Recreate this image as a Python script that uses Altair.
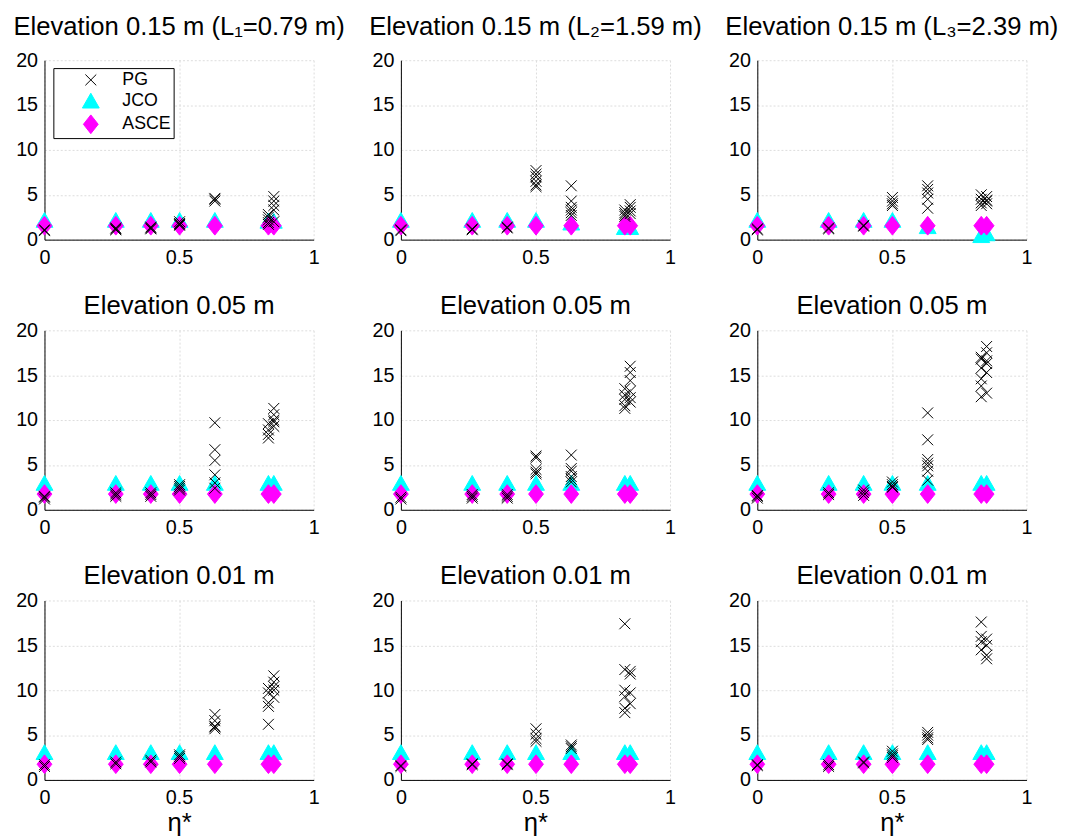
import altair as alt
import pandas as pd

# x positions of the measurement groups (eta*)
ETA = [0.0, 0.265, 0.395, 0.502, 0.633, 0.832, 0.852]
SERIES = ["PG", "JCO", "ASCE"]
COLORS = ["black", "#00FFFF", "#FF00FF"]

TITLES = [
    "Elevation 0.15 m (L\u2081=0.79 m)",
    "Elevation 0.15 m (L\u2082=1.59 m)",
    "Elevation 0.15 m (L\u2083=2.39 m)",
    "Elevation 0.05 m", "Elevation 0.05 m", "Elevation 0.05 m",
    "Elevation 0.01 m", "Elevation 0.01 m", "Elevation 0.01 m",
]

# JCO values per eta position
JCO_R1C1 = [2.2, 2.2, 2.2, 2.2, 2.2, 2.1, 2.1]
JCO_R1C2 = [2.2, 2.2, 2.2, 2.2, 1.9, 1.4, 1.4]
JCO_R1C3 = [2.2, 2.2, 2.2, 2.2, 1.5, 0.5, 0.7]
JCO_R2 = [3.0, 3.0, 3.0, 3.0, 3.0, 3.0, 3.0]
JCO_R3 = [3.1, 3.1, 3.1, 3.1, 3.1, 3.1, 3.1]

# ASCE values per eta position
ASCE_R1 = [1.55, 1.55, 1.55, 1.55, 1.55, 1.55, 1.55]
ASCE_R2 = [1.75, 1.75, 1.75, 1.75, 1.75, 1.75, 1.75]
ASCE_R3 = [1.75, 1.75, 1.75, 1.75, 1.75, 1.75, 1.75]

# PG values per eta position (several runs each)
PG_R1C1 = [[1.0, 1.1], [1.1, 1.2, 1.3], [1.2, 1.3, 1.4], [1.6, 1.8, 2.0, 1.7],
           [4.3, 4.5, 4.6], [2.8, 2.5, 2.2, 1.9, 1.7], [4.8, 4.3, 3.8, 3.3, 2.0]]
PG_R1C2 = [[1.0, 1.1], [1.1, 1.2], [1.3, 1.4], [7.7, 7.3, 7.0, 6.5, 6.1, 5.9],
           [6.0, 4.3, 3.6, 3.3, 3.0, 2.7], [3.3, 3.0, 2.8, 2.6], [3.9, 3.6, 3.2, 2.9]]
PG_R1C3 = [[1.1, 1.2], [1.2, 1.3], [1.5, 1.6], [4.7, 4.3, 4.0, 3.8],
           [6.0, 5.6, 5.2, 4.5, 3.5], [5.0, 4.5, 4.1, 3.8], [4.8, 4.4, 4.3, 4.0]]
PG_R2C1 = [[1.2, 1.4, 1.5], [1.5, 1.7, 1.9], [1.5, 1.7, 1.9], [2.2, 2.4, 2.6, 2.8],
           [9.7, 6.7, 5.5, 3.9, 3.0, 2.4], [9.6, 8.9, 8.4, 8.0], [11.3, 10.6, 10.0, 9.8, 9.3]]
PG_R2C2 = [[1.2, 1.4], [1.3, 1.5, 1.7], [1.3, 1.5, 1.7], [6.0, 5.8, 4.5, 4.2, 4.0],
           [6.1, 4.6, 4.3, 3.7, 3.4, 3.1], [13.5, 12.8, 12.3, 11.6, 11.3],
           [16.0, 15.3, 14.4, 13.2, 12.5, 12.0]]
PG_R2C3 = [[1.3, 1.5, 1.6], [1.7, 1.9], [1.6, 1.9, 2.2], [3.1, 2.8, 2.6, 2.5],
           [10.8, 7.8, 5.6, 5.2, 4.9, 4.3, 3.3], [17.0, 16.8, 15.8, 14.6, 13.8, 12.6],
           [18.2, 17.5, 16.6, 16.3, 15.3, 13.0]]
PG_R3C1 = [[1.5, 1.7], [1.8, 2.0], [2.0, 2.2], [2.4, 2.6, 2.8],
           [7.3, 6.6, 6.0, 5.7, 5.9], [10.2, 9.7, 8.6, 8.2, 6.2], [11.6, 10.9, 10.4, 10.0, 9.2]]
PG_R3C2 = [[1.5, 1.6], [1.7, 1.8], [1.7, 1.8], [5.7, 5.1, 4.6, 4.3],
           [3.9, 3.7, 3.5], [17.4, 12.3, 10.0, 9.3, 8.0, 7.5], [12.1, 11.8, 9.7, 8.5]]
PG_R3C3 = [[1.6, 1.7], [1.5, 1.7], [1.9, 2.0], [3.2, 2.9, 2.7, 2.5],
           [5.3, 5.0, 4.7, 4.5], [17.6, 16.0, 15.4, 14.5], [15.7, 15.0, 13.9, 13.5]]

PANELS = [
    (PG_R1C1, JCO_R1C1, ASCE_R1), (PG_R1C2, JCO_R1C2, ASCE_R1), (PG_R1C3, JCO_R1C3, ASCE_R1),
    (PG_R2C1, JCO_R2, ASCE_R2), (PG_R2C2, JCO_R2, ASCE_R2), (PG_R2C3, JCO_R2, ASCE_R2),
    (PG_R3C1, JCO_R3, ASCE_R3), (PG_R3C2, JCO_R3, ASCE_R3), (PG_R3C3, JCO_R3, ASCE_R3),
]

# marker glyphs (unit paths)
X_PATH = "M-0.58,-0.58L0.58,0.58M0.58,-0.58L-0.58,0.58"
TRI_PATH = "M0,-0.79L0.9,0.79L-0.9,0.79Z"
DIA_PATH = "M0,-1L0.79,0L0,1L-0.79,0Z"

FONT = "Liberation Sans"


def make_df(pg, jco, asce):
    rows = []
    for e, v in zip(ETA, jco):
        rows.append({"eta": e, "value": v, "series": "JCO"})
    for e, v in zip(ETA, asce):
        rows.append({"eta": e, "value": v, "series": "ASCE"})
    for e, vals in zip(ETA, pg):
        for v in vals:
            rows.append({"eta": e, "value": v, "series": "PG"})
    return pd.DataFrame(rows)


def panel(i):
    pg, jco, asce = PANELS[i]
    df = make_df(pg, jco, asce)
    row = i // 3
    if i == 0:
        leg = alt.Legend(title=None, orient="none", legendX=9, legendY=8,
                         strokeColor="black", fillColor="white", padding=2,
                         rowPadding=2, symbolSize=361, symbolStrokeWidth=1,
                         symbolOffset=26, labelOffset=22, labelFontSize=18,
                         labelExpr="datum.label + '\u00a0'",
                         labelColor="black", labelFont=FONT, cornerRadius=0)
    else:
        leg = None
    xaxis = alt.Axis(values=[0, 0.5, 1], format="~g",
                     title="\u03b7*" if row == 2 else None)
    yaxis = alt.Axis(values=[0, 5, 10, 15, 20], title=None)
    enc = dict(
        x=alt.X("eta:Q", scale=alt.Scale(domain=[0, 1], nice=False, zero=False), axis=xaxis),
        y=alt.Y("value:Q", scale=alt.Scale(domain=[0, 20], nice=False), axis=yaxis),
    )
    cscale = alt.Scale(domain=SERIES, range=COLORS)
    sscale = alt.Scale(domain=SERIES, range=[X_PATH, TRI_PATH, DIA_PATH])
    if leg is not None:
        enc["color"] = alt.Color("series:N", scale=cscale, legend=leg)
        enc["stroke"] = alt.Stroke("series:N", scale=cscale, legend=leg)
        enc["shape"] = alt.Shape("series:N", scale=sscale, legend=leg)
    else:
        enc["color"] = alt.Color("series:N", scale=cscale, legend=None)
        enc["stroke"] = alt.Stroke("series:N", scale=cscale, legend=None)
        enc["shape"] = alt.Shape("series:N", scale=sscale, legend=None)
    title = alt.Title(TITLES[i], fontSize=26, font=FONT, fontWeight="normal",
                      color="black", baseline="alphabetic",
                      offset=-10 if row == 0 else -19, anchor="middle")
    return (
        alt.Chart(df)
        .mark_point(filled=True, opacity=1, size=361, strokeWidth=1)
        .encode(**enc)
        .properties(width=273, height=182, title=title)
    )


chart = (
    alt.concat(*[panel(i) for i in range(9)], columns=3,
               spacing={"row": 92, "column": 88.5}, bounds="flush")
    .resolve_legend(color="independent", stroke="independent", shape="independent")
    .properties(padding={"left": 5, "top": 0, "right": 0, "bottom": 0})
    .configure_view(strokeOpacity=0)
    .configure_axis(
        domainColor="black", domainWidth=1, ticks=False, tickSize=0,
        labelFont=FONT, labelFontSize=20, labelColor="black", labelFlush=False,
        grid=True, gridColor="#dcdcdc", gridDash=[2, 2], gridWidth=1,
        titleFont=FONT, titleFontSize=26, titleFontWeight="normal",
        titleColor="black", titlePadding=2,
    )
    .configure_axisX(labelPadding=8)
    .configure_axisY(labelPadding=7)
)

chart.save("out.html", embed_options={"renderer": "svg", "actions": False})
